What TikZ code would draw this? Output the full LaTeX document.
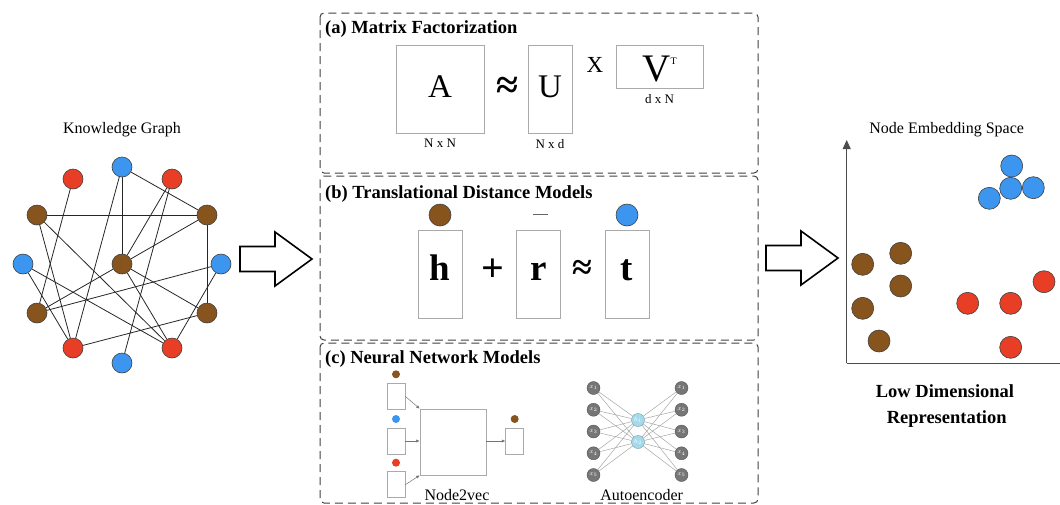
\documentclass[tikz,border=0pt]{standalone}
\usepackage{fontspec}
\setmainfont{Liberation Serif}
\usetikzlibrary{arrows.meta,positioning,backgrounds}

\definecolor{kgbrown}{RGB}{135,84,30}
\definecolor{kgred}{RGB}{232,62,38}
\definecolor{kgblue}{RGB}{60,150,240}
\definecolor{boxgray}{RGB}{170,170,170}
\definecolor{aegray}{RGB}{118,118,118}
\definecolor{aecyan}{RGB}{165,218,236}

\newcommand{\kgsize}{20pt}
\newcommand{\embsize}{22pt}
\newcommand{\blockarrow}[1]{%
    \draw[line width=1.6pt,fill=white,line join=miter] (#1) ++(0,-12.5) -- ++(35,0)
        -- ++(0,-14.5) -- ++(37,27) -- ++(-37,27) -- ++(0,-14.5) -- ++(-35,0) -- cycle;
}

\tikzset{
    kgnode/.style={circle,draw=black!75,line width=0.6pt,minimum size=\kgsize,inner sep=0pt},
    embnode/.style={kgnode,minimum size=\embsize},
    dotnode/.style={kgnode,draw=none,minimum size=8pt},
    kgedge/.style={draw=black!85,line width=0.8pt},
    panel/.style={draw=black!75,line width=1pt,dash pattern=on 8pt off 5pt,rounded corners=4pt},
    paneltitle/.style={anchor=base west,inner sep=0pt,font=\fontsize{18.5}{20}\selectfont\bfseries},
    matbox/.style={draw=boxgray,line width=0.8pt,inner sep=0pt},
    smallbox/.style={matbox,line width=0.6pt,minimum width=18pt,minimum height=26pt},
    dimlabel/.style={inner sep=0pt,font=\fontsize{13}{14}\selectfont},
    caption/.style={anchor=base,inner sep=0pt,font=\fontsize{16}{18}\selectfont},
    bigsym/.style={anchor=base,inner sep=0pt,font=\fontsize{37}{37}\selectfont\bfseries},
    flow/.style={draw=black!55,line width=0.5pt,-{Latex[length=3.5pt,width=3pt]}},
    aenode/.style={circle,fill=aegray,draw=aegray!70!black,line width=0.4pt,minimum size=13pt,
        inner sep=0pt,text=white,font=\fontsize{6}{6}\selectfont},
    hidnode/.style={aenode,fill=aecyan,draw=aecyan!70!black},
    aeedge/.style={draw=black!35,line width=0.5pt},
    axis/.style={draw=black!70,line width=0.9pt}
}

\begin{document}
\begin{tikzpicture}[x=1pt,y=-1pt]
\useasboundingbox (0,0) rectangle (1060,504);
\clip (0,0) rectangle (1060,504);

% knowledge graph
\node[caption] (kgtitle) at (122,133) {Knowledge Graph};
\node[kgnode,fill=kgblue]  (top) at (122,167) {};
\node[kgnode,fill=kgred]   (rtl) at (73,179) {};
\node[kgnode,fill=kgred]   (rtr) at (172,179) {};
\node[kgnode,fill=kgbrown] (bul) at (37,215) {};
\node[kgnode,fill=kgbrown] (bur) at (207,215) {};
\node[kgnode,fill=kgblue]  (bl)  at (23,264) {};
\node[kgnode,fill=kgbrown] (bc)  at (122,264) {};
\node[kgnode,fill=kgblue]  (br)  at (221,264) {};
\node[kgnode,fill=kgbrown] (bll) at (37,313) {};
\node[kgnode,fill=kgbrown] (blr) at (207,313) {};
\node[kgnode,fill=kgred]   (rbl) at (73,348) {};
\node[kgnode,fill=kgred]   (rbr) at (172,348) {};
\node[kgnode,fill=kgblue]  (bot) at (122,363) {};
\begin{scope}[on background layer]
\foreach \a/\b in {top/bc, top/bur, top/rbl, rtl/bll, rtr/bc, rtr/bot, bul/bur, bul/rbl,
    bul/rbr, bl/rbl, bl/rbr, bc/bll, bc/bur, bc/rbr, bc/blr, br/bll, br/rbr, bur/blr, blr/rbl}
    \draw[kgedge] (\a) -- (\b);
\end{scope}

% block arrows
\coordinate (kgarrow) at (240,259);
\coordinate (embarrow) at (766,258);
\blockarrow{kgarrow}
\blockarrow{embarrow}

% panels
\draw[panel] (320,13) rectangle (758,173);
\draw[panel] (320,176) rectangle (758,340);
\draw[panel] (320,343) rectangle (758,503);

% (a) matrix factorization
\node[paneltitle] (atitle) at (325,33) {(a) Matrix Factorization};
\node[matbox,minimum width=88pt,minimum height=88pt] (A) at (440,89) {};
\node[anchor=base,inner sep=0pt,font=\fontsize{33}{33}\selectfont] (Alab) at (440,97.5) {A};
\node[dimlabel,below=5.5pt of A] (Adim) {N x N};
\node[font=\fontsize{40}{40}\selectfont\bfseries] (approxA) at (507,88) {≈};
\node[matbox,minimum width=44pt,minimum height=88pt] (U) at (550,89) {};
\node[anchor=base,inner sep=0pt,font=\fontsize{33}{33}\selectfont] (Ulab) at (550,97) {U};
\node[dimlabel,below=5.5pt of U] (Udim) {N x d};
\node[anchor=base,inner sep=0pt,font=\fontsize{23}{23}\selectfont] (times) at (595,72) {X};
\node[matbox,minimum width=87pt,minimum height=43pt] (V) at (659.5,66.5) {};
\node[anchor=base,inner sep=0pt,font=\fontsize{39}{39}\selectfont] (Vlab) at (659.5,81) {V\raisebox{17pt}{\fontsize{10}{10}\selectfont T}};
\node[dimlabel,below=6pt of V] (Vdim) {d x N};

% (b) translational distance models
\node[paneltitle] (btitle) at (325,198) {(b) Translational Distance Models};
\node[embnode,fill=kgbrown] (head) at (440,215) {};
\node[fill=black!60,inner sep=0pt,minimum width=15pt,minimum height=0.8pt] (rel) at (540,214) {};
\node[embnode,fill=kgblue] (tail) at (627,215) {};
\node[matbox,minimum width=44pt,minimum height=88pt] (hbox) at (440,274) {};
\node[matbox,minimum width=44pt,minimum height=88pt] (rbox) at (538.7,274) {};
\node[matbox,minimum width=44pt,minimum height=88pt] (tbox) at (627,274) {};
\node[bigsym] (hlab) at (440,280) {h};
\node[bigsym] (rlab) at (538.7,280) {r};
\node[bigsym] (tlab) at (627,280) {t};
\node[font=\fontsize{40}{40}\selectfont\bfseries] (plus) at (493,270) {+};
\node[font=\fontsize{36}{36}\selectfont\bfseries] (approxB) at (582,270) {≈};

% (c) neural network models
\node[paneltitle] (ctitle) at (325,363) {(c) Neural Network Models};
\foreach \c/\y [count=\i] in {kgbrown/374.3, kgblue/419, kgred/462.7} {
    \node[dotnode,fill=\c] (dot\i) at (396,\y) {};
    \node[smallbox] (vec\i) at (396,{\y+22}) {};
}
\node[matbox,line width=0.6pt,minimum width=66pt,minimum height=66pt] (skipgram) at (453,442) {};
\node[smallbox] (vecout) at (514.7,441) {};
\node[dotnode,fill=kgbrown] (dotout) at (514.7,419) {};
\draw[flow] (vec1.east) -- (skipgram.north west);
\draw[flow] (vec2.east) -- (vec2.east -| skipgram.west);
\draw[flow] (vec3.east) -- (skipgram.south west);
\draw[flow] (skipgram.east |- vecout.west) -- (vecout.west);
\node[caption] (n2vlab) at (457,500) {Node2vec};

\foreach \y [count=\i] in {388,409.75,431.5,453.25,475} {
    \node[aenode] (xin\i) at (593.5,\y) {$x_{\i}$};
    \node[aenode] (xout\i) at (681.5,\y) {$x_{\i}$};
}
\node[hidnode] (hid1) at (638,420) {$h_1$};
\node[hidnode] (hid2) at (638,442) {$h_2$};
\begin{scope}[on background layer]
\foreach \i in {1,...,5}
    \foreach \j in {1,2} {
        \draw[aeedge] (xin\i) -- (hid\j);
        \draw[aeedge] (hid\j) -- (xout\i);
    }
\end{scope}
\node[caption] (aelab) at (641.7,500) {Autoencoder};

% node embedding space
\node[caption] (embtitle) at (946.7,133.5) {Node Embedding Space};
\coordinate (origin) at (846.7,363.3);
\coordinate (ytop) at (846.7,140);
\coordinate (xend) at (1062,363.3);
\draw[axis,-{Triangle[length=9pt,width=8pt]}] (origin) -- (ytop);
\draw[axis] (origin) -- (xend);

\foreach \pos [count=\i] in {{1011.7,166},{1033.3,187.7},{989.3,198.3},{1010.7,188.3}}
    \node[embnode,fill=kgblue] (eb\i) at (\pos) {};
\foreach \pos [count=\i] in {{862.7,264.3},{900.7,253.3},{900.7,286},{862.7,308.3},{879,341}}
    \node[embnode,fill=kgbrown] (en\i) at (\pos) {};
\foreach \pos [count=\i] in {{967.7,303.3},{1010.7,303.3},{1044,281.7},{1010.7,347.3}}
    \node[embnode,fill=kgred] (er\i) at (\pos) {};

\node[caption,font=\fontsize{18.5}{20}\selectfont\bfseries] (lowdim) at (945,397) {Low Dimensional};
\node[caption,font=\fontsize{18.5}{20}\selectfont\bfseries] (repr) at (946.7,423) {Representation};

\end{tikzpicture}
\end{document}
